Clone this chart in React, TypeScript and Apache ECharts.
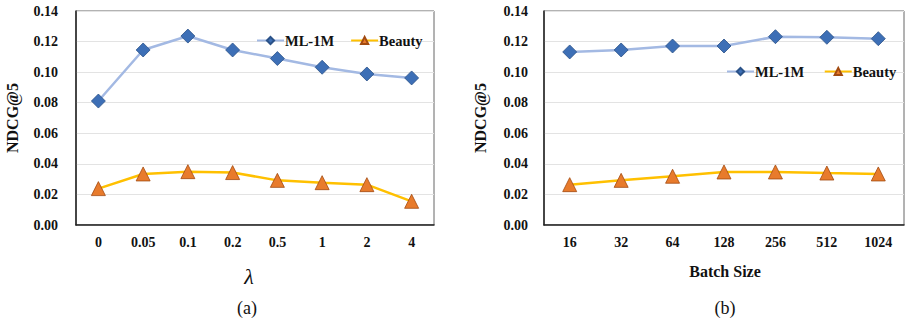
import React, { useEffect, useRef } from "react";
import * as echarts from "echarts";

const lambdaCats = ["0", "0.05", "0.1", "0.2", "0.5", "1", "2", "4"];
const lambdaML = [0.0811, 0.1145, 0.1236, 0.1145, 0.1089, 0.1032, 0.0988, 0.0962];
const lambdaBeauty = [0.0238, 0.0334, 0.0349, 0.0343, 0.0292, 0.0277, 0.0264, 0.0155];

const batchCats = ["16", "32", "64", "128", "256", "512", "1024"];
const batchML = [0.1132, 0.1145, 0.1171, 0.1171, 0.1232, 0.1228, 0.1219];
const batchBeauty = [0.0264, 0.0292, 0.0319, 0.0347, 0.0347, 0.034, 0.0334];

const FONT = "Liberation Serif";
const ML_LINE = "#A3B9E3";
const ML_FILL = "#3D6FB6";
const ML_BORDER = "#2B5288";
const BE_LINE = "#FFC000";
const BE_FILL = "#E87B2C";
const BE_BORDER = "#A24A10";

export default function App() {
  const ref = useRef<HTMLDivElement>(null);
  useEffect(() => {
    if (!ref.current) return;
    const chart = echarts.init(ref.current, undefined, { renderer: "svg" });

    const yAxisBase = (gridIndex: number, margin: number) => ({
      type: "value",
      gridIndex,
      min: 0,
      max: 0.14,
      interval: 0.02,
      name: "NDCG@5",
      nameLocation: "middle",
      nameRotate: 90,
      nameGap: 56,
      nameTextStyle: { fontFamily: FONT, fontWeight: "bold", fontSize: 16, color: "#111" },
      axisLine: { show: true, lineStyle: { color: "#222", width: 1.5 } },
      axisTick: { show: false },
      axisLabel: {
        fontFamily: FONT,
        fontWeight: "bold",
        fontSize: 14,
        color: "#111",
        margin,
        formatter: (v: number) => v.toFixed(2),
      },
      splitLine: { show: true, lineStyle: { color: "#E3E3E3", width: 1 } },
    });

    const xAxisBase = (gridIndex: number, data: string[]) => ({
      type: "category",
      gridIndex,
      data,
      boundaryGap: true,
      axisLine: { show: true, lineStyle: { color: "#222", width: 1.5 } },
      axisTick: { show: false },
      axisLabel: { fontFamily: FONT, fontWeight: "bold", fontSize: 14, color: "#111", margin: 10 },
      splitLine: { show: false },
    });

    const mlSeries = (name: string, idx: number, data: number[]) => ({
      name,
      type: "line",
      xAxisIndex: idx,
      yAxisIndex: idx,
      data,
      symbol: "diamond",
      symbolSize: 14,
      lineStyle: { color: ML_LINE, width: 2.5 },
      itemStyle: { color: ML_FILL, borderColor: ML_BORDER, borderWidth: 0.8 },
    });
    const beSeries = (name: string, idx: number, data: number[]) => ({
      name,
      type: "line",
      xAxisIndex: idx,
      yAxisIndex: idx,
      data,
      symbol: "triangle",
      symbolSize: 14,
      lineStyle: { color: BE_LINE, width: 2.5 },
      itemStyle: { color: BE_FILL, borderColor: BE_BORDER, borderWidth: 0.8 },
    });

    const legendBase = {
      itemWidth: 27,
      itemHeight: 9,
      itemGap: 16,
      width: 220,
      textStyle: { fontFamily: FONT, fontWeight: "bold", fontSize: 14.5, color: "#111", padding: [0, 0, 0, -4] },
      padding: 0,
    };

    chart.setOption({
      animation: false,
      backgroundColor: "#fff",
      grid: [
        { left: 76, right: 474, top: 11, bottom: 99, show: true, borderColor: "#666", borderWidth: 1 },
        { left: 544, right: 4, top: 11, bottom: 99, show: true, borderColor: "#666", borderWidth: 1 },
      ],
      legend: [
        {
          ...legendBase,
          data: ["ML-1M", "Beauty"],
          left: 256,
          top: 33,
        },
        {
          ...legendBase,
          data: ["ML-1M ", "Beauty "],
          left: 726,
          top: 64,
        },
      ],
      xAxis: [xAxisBase(0, lambdaCats), xAxisBase(1, batchCats)],
      yAxis: [yAxisBase(0, 18), yAxisBase(1, 16)],
      series: [
        mlSeries("ML-1M", 0, lambdaML),
        beSeries("Beauty", 0, lambdaBeauty),
        mlSeries("ML-1M ", 1, batchML),
        beSeries("Beauty ", 1, batchBeauty),
      ],
      graphic: [
        {
          type: "text",
          x: 249,
          y: 276,
          style: {
            text: "λ",
            fontFamily: FONT,
            fontStyle: "italic",
            fontSize: 22,
            fill: "#111",
            align: "center",
            verticalAlign: "middle",
          },
        },
        {
          type: "text",
          x: 725,
          y: 271,
          style: {
            text: "Batch Size",
            fontFamily: FONT,
            fontWeight: "bold",
            fontSize: 16,
            fill: "#111",
            align: "center",
            verticalAlign: "middle",
          },
        },
        {
          type: "text",
          x: 247,
          y: 308,
          style: {
            text: "(a)",
            fontFamily: FONT,
            fontSize: 18,
            fill: "#111",
            align: "center",
            verticalAlign: "middle",
          },
        },
        {
          type: "text",
          x: 725,
          y: 308,
          style: {
            text: "(b)",
            fontFamily: FONT,
            fontSize: 18,
            fill: "#111",
            align: "center",
            verticalAlign: "middle",
          },
        },
      ],
    });
    return () => chart.dispose();
  }, []);
  return (
    <div
      ref={ref}
      style={{ position: "absolute", left: 0, top: 0, width: 908, height: 324 }}
    />
  );
}
